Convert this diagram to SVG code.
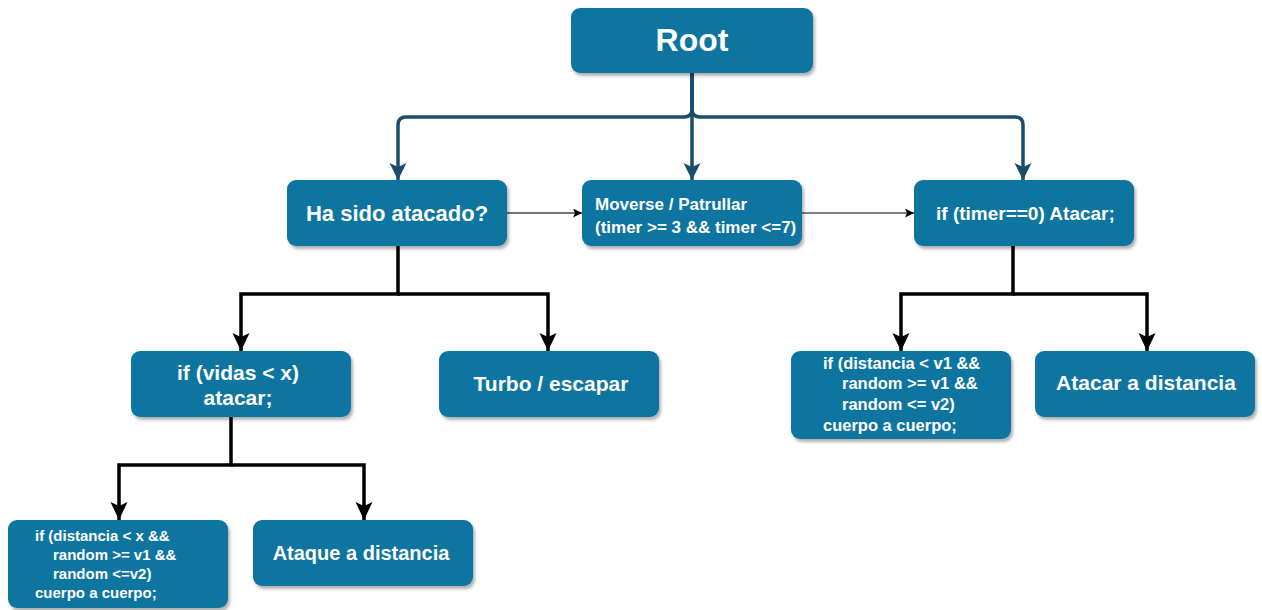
<svg xmlns="http://www.w3.org/2000/svg" width="1262" height="610" viewBox="0 0 1262 610">
  <defs>
    <filter id="shadow" x="-10%" y="-10%" width="125%" height="130%">
      <feDropShadow dx="2" dy="3" stdDeviation="1.5" flood-color="#000" flood-opacity="0.3"/>
    </filter>
    <marker id="arrBlue" markerUnits="userSpaceOnUse" markerWidth="18" markerHeight="18" refX="17" refY="8.5" orient="auto">
      <path d="M0,0 L17,8.5 L0,17 L4,8.5 Z" fill="#1B4D6B"/>
    </marker>
    <marker id="arrBlack" markerUnits="userSpaceOnUse" markerWidth="20" markerHeight="18" refX="18" refY="8.5" orient="auto">
      <path d="M0,0 L18,8.5 L0,17 L4,8.5 Z" fill="#000"/>
    </marker>
    <marker id="arrThin" markerUnits="userSpaceOnUse" markerWidth="10" markerHeight="10" refX="9" refY="4.5" orient="auto">
      <path d="M0,0 L9,4.5 L0,9 L2,4.5 Z" fill="#000"/>
    </marker>
    <style>
      .box { fill: #0E75A0; filter: url(#shadow); }
      .t { fill: #fff; font-family: "Liberation Sans", Arial, sans-serif; font-weight: bold; }
      .c { text-anchor: middle; }
      .blue { fill: none; stroke: #1B4D6B; stroke-width: 3.5; }
      .black { fill: none; stroke: #000; stroke-width: 3.5; }
    </style>
  </defs>

  <!-- connectors -->
  <g id="connectors">
    <path class="blue" d="M692,73 V109 Q692,117 684,117 H406 Q398,117 398,125 V180" marker-end="url(#arrBlue)"/>
    <path class="blue" d="M692,73 V180" marker-end="url(#arrBlue)"/>
    <path class="blue" d="M692,73 V109 Q692,117 700,117 H1015 Q1023,117 1023,125 V180" marker-end="url(#arrBlue)"/>

    <path d="M507,213 H582" fill="none" stroke="#444" stroke-width="1.5" marker-end="url(#arrThin)"/>
    <path d="M802,213 H914" fill="none" stroke="#000" stroke-width="1" marker-end="url(#arrThin)"/>

    <path class="black" d="M398,246 V294 H241 V351" marker-end="url(#arrBlack)"/>
    <path class="black" d="M398,294 H548 V351" marker-end="url(#arrBlack)"/>

    <path class="black" d="M1013,246 V294 H901 V351" marker-end="url(#arrBlack)"/>
    <path class="black" d="M1013,294 H1147 V351" marker-end="url(#arrBlack)"/>

    <path class="black" d="M231,417 V465 H119 V520" marker-end="url(#arrBlack)"/>
    <path class="black" d="M231,465 H364 V520" marker-end="url(#arrBlack)"/>
  </g>

  <g id="root">
    <rect class="box" x="571" y="8" width="242" height="65" rx="9"/>
    <text class="t c" x="692" y="51" font-size="32">Root</text>
  </g>

  <g id="atacado">
    <rect class="box" x="287" y="180" width="220" height="66" rx="9"/>
    <text class="t c" x="397" y="221" font-size="22">Ha sido atacado?</text>
  </g>

  <g id="patrullar">
    <rect class="box" x="582" y="180" width="220" height="66" rx="9"/>
    <text class="t" x="595" y="210" font-size="17">Moverse / Patrullar</text>
    <text class="t" x="595" y="233" font-size="17">(timer &gt;= 3 &amp;&amp; timer &lt;=7)</text>
  </g>

  <g id="timer">
    <rect class="box" x="914" y="180" width="220" height="66" rx="9"/>
    <text class="t" x="936" y="220" font-size="19">if (timer==0) Atacar;</text>
  </g>

  <g id="vidas">
    <rect class="box" x="131" y="351" width="220" height="66" rx="9"/>
    <text class="t c" x="238" y="380" font-size="21">if (vidas &lt; x)</text>
    <text class="t c" x="238" y="405" font-size="21">atacar;</text>
  </g>

  <g id="turbo">
    <rect class="box" x="439" y="351" width="220" height="66" rx="9"/>
    <text class="t c" x="551" y="391" font-size="21">Turbo / escapar</text>
  </g>

  <g id="cuerpo-v1">
    <rect class="box" x="791" y="351" width="220" height="88" rx="9"/>
    <text class="t" x="823" y="369" font-size="16.5">if (distancia &lt; v1 &amp;&amp;</text>
    <text class="t" x="842" y="389" font-size="16.5">random &gt;= v1 &amp;&amp;</text>
    <text class="t" x="842" y="410" font-size="16.5">random &lt;= v2)</text>
    <text class="t" x="823" y="431" font-size="16.5">cuerpo a cuerpo;</text>
  </g>

  <g id="atacar-distancia">
    <rect class="box" x="1035" y="351" width="220" height="66" rx="9"/>
    <text class="t c" x="1146" y="390" font-size="21">Atacar a distancia</text>
  </g>

  <g id="cuerpo-x">
    <rect class="box" x="8" y="520" width="220" height="88" rx="9"/>
    <text class="t" x="35" y="541" font-size="15">if (distancia &lt; x &amp;&amp;</text>
    <text class="t" x="53" y="560" font-size="15">random &gt;= v1 &amp;&amp;</text>
    <text class="t" x="53" y="579" font-size="15">random &lt;=v2)</text>
    <text class="t" x="35" y="598" font-size="15">cuerpo a cuerpo;</text>
  </g>

  <g id="ataque-distancia">
    <rect class="box" x="253" y="520" width="220" height="66" rx="9"/>
    <text class="t c" x="361" y="560" font-size="20">Ataque a distancia</text>
  </g>
</svg>
